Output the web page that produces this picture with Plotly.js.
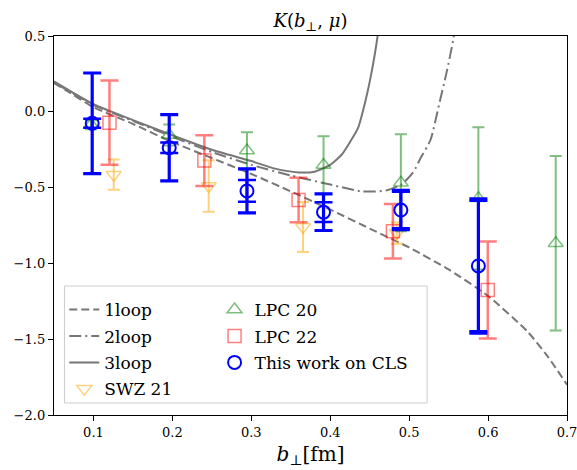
<!DOCTYPE html>
<html>
<head>
<meta charset="utf-8">
<script src="https://cdn.plot.ly/plotly-3.0.1.min.js"></script>
<style>html,body{margin:0;padding:0;background:#fff;}#chart{width:577px;height:470px;}</style>
</head>
<body>
<div id="chart"></div>
<script>
// ---- curves ----
const loop1X = [0.05, 0.075, 0.1, 0.15, 0.2, 0.25, 0.3, 0.35, 0.4, 0.45, 0.5, 0.55, 0.6, 0.65, 0.675, 0.7];
const loop1Y = [0.19, 0.11, 0.03, -0.08, -0.20, -0.305, -0.41, -0.525, -0.645, -0.77, -0.895, -1.04, -1.215, -1.45, -1.61, -1.80];
const loop2X = [0.05, 0.1, 0.15, 0.2, 0.25, 0.3, 0.35, 0.4, 0.44, 0.47, 0.49, 0.505, 0.515, 0.527, 0.538, 0.547, 0.556, 0.56];
const loop2Y = [0.195, 0.045, -0.06, -0.165, -0.265, -0.35, -0.42, -0.48, -0.525, -0.52, -0.48, -0.40, -0.30, -0.186, 0.05, 0.25, 0.48, 0.65];
const loop3X = [0.05, 0.1, 0.15, 0.2, 0.25, 0.3, 0.33, 0.36, 0.38, 0.40, 0.415, 0.425, 0.435, 0.445, 0.452, 0.46, 0.465];
const loop3Y = [0.20, 0.05, -0.055, -0.155, -0.25, -0.325, -0.375, -0.40, -0.395, -0.35, -0.28, -0.20, -0.11, 0.08, 0.25, 0.50, 0.75];

// ---- data points ----
const swzX = [0.1257, 0.246, 0.3655, 0.4844];
const swzY = [-0.415, -0.49, -0.76, -0.80];
const swzErr = [0.10, 0.17, 0.165, 0.07];

const lpc20X = [0.097, 0.196, 0.2945, 0.3915, 0.4895, 0.5877, 0.6857];
const lpc20Y = [-0.085, -0.153, -0.255, -0.351, -0.468, -0.571, -0.867];
const lpc20Err = [0.03, 0.07, 0.12, 0.19, 0.32, 0.469, 0.575];

const lpc22X = [0.1203, 0.2405, 0.3599, 0.4794, 0.5996];
const lpc22Y = [-0.072, -0.322, -0.582, -0.788, -1.175];
const lpc22Err = [0.278, 0.167, 0.147, 0.18, 0.32];

const clsX = [0.0984, 0.196, 0.2945, 0.3915, 0.4895, 0.5877];
const clsY = [-0.076, -0.237, -0.522, -0.662, -0.648, -1.017];
const clsErrOuter = [0.332, 0.218, 0.145, 0.121, 0.13, 0.443];
const clsErrInner = [0.03, 0.035, 0.072, 0.065, 0.12, 0.43];

const xTicks = [0.1, 0.2, 0.3, 0.4, 0.5, 0.6, 0.7];
const yTicks = [0.5, 0.0, -0.5, -1.0, -1.5, -2.0];

const lineCol = '#777777';
const serif = 'DejaVu Serif';

const traces = [
  {x: loop1X, y: loop1Y, mode: 'lines', name: '1loop', legend: 'legend', legendgroup: 'a',
   line: {color: lineCol, width: 2, dash: '8px,4px', shape: 'spline', smoothing: 0.6}},
  {x: loop2X, y: loop2Y, mode: 'lines', name: '2loop', legend: 'legend', legendgroup: 'b',
   line: {color: lineCol, width: 2, dash: '12px,4px,2px,4px', shape: 'spline', smoothing: 0.6}},
  {x: loop3X, y: loop3Y, mode: 'lines', name: '3loop', legend: 'legend', legendgroup: 'c',
   line: {color: lineCol, width: 2, shape: 'spline', smoothing: 0.6}},
  {x: swzX, y: swzY, mode: 'markers', name: 'SWZ 21', legend: 'legend', legendgroup: 'd',
   marker: {symbol: 'triangle-down-open', size: 13, color: 'rgba(255,165,0,0.5)', line: {width: 1.5}},
   error_y: {type: 'data', array: swzErr, visible: true, color: 'rgba(255,165,0,0.5)', thickness: 2, width: 6}},
  {x: lpc20X, y: lpc20Y, mode: 'markers', name: 'LPC 20', legend: 'legend2', legendgroup: 'e',
   marker: {symbol: 'triangle-up-open', size: 13, color: 'rgba(0,128,0,0.5)', line: {width: 1.5}},
   error_y: {type: 'data', array: lpc20Err, visible: true, color: 'rgba(0,128,0,0.5)', thickness: 2, width: 6}},
  {x: lpc22X, y: lpc22Y, mode: 'markers', name: 'LPC 22', legend: 'legend2', legendgroup: 'f',
   marker: {symbol: 'square-open', size: 13, color: 'rgba(255,0,0,0.5)', line: {width: 1.5}},
   error_y: {type: 'data', array: lpc22Err, visible: true, color: 'rgba(255,0,0,0.5)', thickness: 2.5, width: 9}},
  {x: clsX, y: clsY, mode: 'markers', name: 'inner', showlegend: false, legend: 'legend2',
   marker: {size: 1, color: 'rgba(0,0,255,0)'},
   error_y: {type: 'data', array: clsErrInner, visible: true, color: 'blue', thickness: 2.5, width: 9}},
  {x: clsX, y: clsY, mode: 'markers', name: 'This work on CLS', legend: 'legend2', legendgroup: 'g',
   marker: {symbol: 'circle-open', size: 13, color: 'blue', line: {width: 2}},
   error_y: {type: 'data', array: clsErrOuter, visible: true, color: 'blue', thickness: 3.2, width: 9}}
];

const legendCommon = {
  bgcolor: 'rgba(0,0,0,0)', borderwidth: 0, traceorder: 'grouped', tracegroupgap: 1.3,
  font: {family: serif, size: 17, color: '#000'}, xanchor: 'left', yanchor: 'top'
};

const layout = {
  width: 577, height: 470,
  margin: {l: 53.5, r: 10, t: 36, b: 55},
  paper_bgcolor: '#fff', plot_bgcolor: '#fff',
  font: {family: serif, color: '#000'},
  title: {text: '<i>K</i>(<i>b</i><sub>⊥</sub>, <i>μ</i>)', x: 0.5, xref: 'paper', xanchor: 'center',
          y: 0.955, yanchor: 'middle', font: {family: serif, size: 18, color: '#000'}},
  xaxis: {range: [0.05, 0.7], tickmode: 'array', tickvals: xTicks, ticktext: xTicks.map(v => v.toFixed(1)),
          ticks: 'outside', ticklen: 5, ticklabeloverflow: 'allow',
          tickwidth: 1, tickcolor: '#000', showline: true, linecolor: '#000', linewidth: 1.2, mirror: true,
          showgrid: false, zeroline: false, tickfont: {family: serif, size: 13, color: '#000'},
          title: {text: '<i>b</i><sub>⊥</sub>[fm]', standoff: 8, font: {family: serif, size: 20, color: '#000'}}},
  yaxis: {range: [-2.0, 0.5], tickmode: 'array', tickvals: yTicks,
          ticktext: yTicks.map(v => (v < 0 ? '\u2212' + Math.abs(v).toFixed(1) : v.toFixed(1))),
          ticks: 'outside', ticklen: 5, ticklabeloverflow: 'allow',
          tickwidth: 1, tickcolor: '#000', showline: true, linecolor: '#000', linewidth: 1.2, mirror: true,
          showgrid: false, zeroline: false, tickfont: {family: serif, size: 13, color: '#000'}},
  legend: Object.assign({}, legendCommon, {x: 0.02, y: 0.3244}),
  legend2: Object.assign({}, legendCommon, {x: 0.313, y: 0.3244}),
  shapes: [{type: 'rect', xref: 'paper', yref: 'paper', x0: 0.0204, x1: 0.7274, y0: 0.0317, y1: 0.3404,
            line: {color: '#cccccc', width: 1}, fillcolor: 'rgba(255,255,255,0.8)', layer: 'above'}],
  showlegend: true
};

Plotly.newPlot('chart', traces, layout, {displayModeBar: false, staticPlot: true});
</script>
</body>
</html>
